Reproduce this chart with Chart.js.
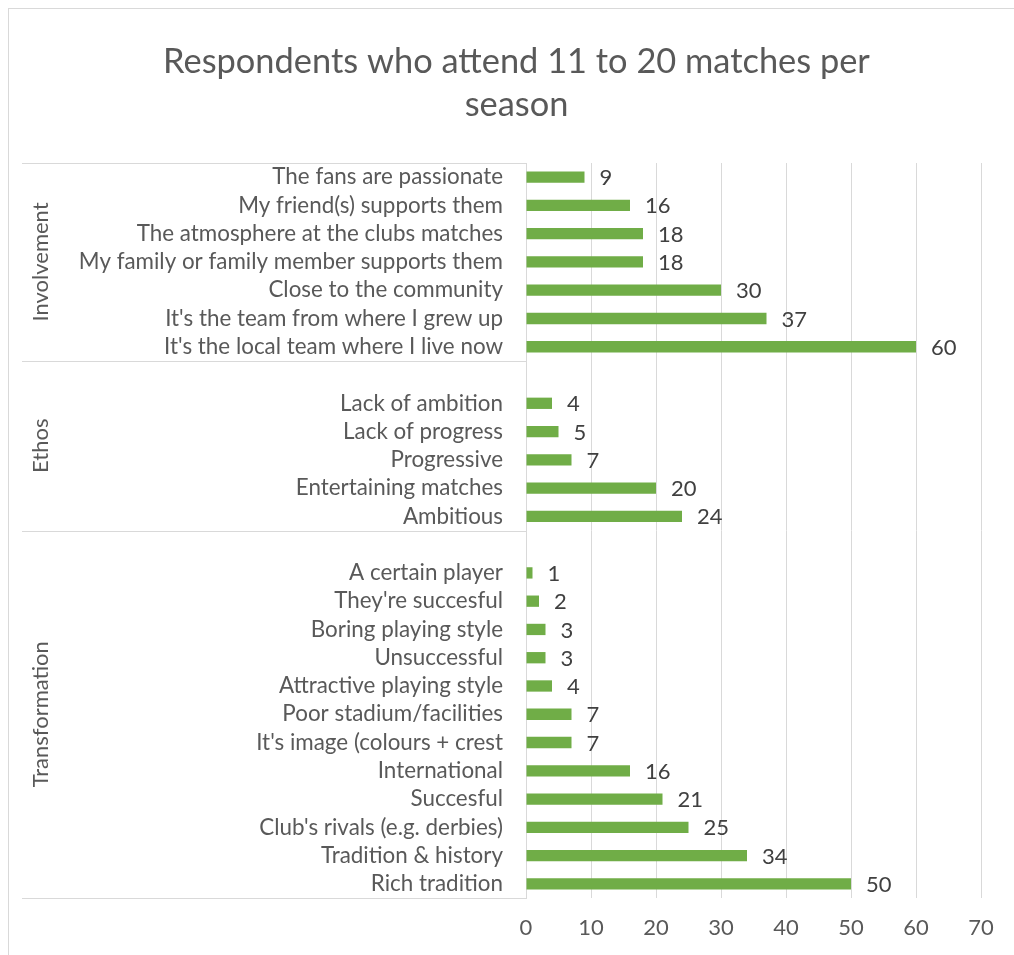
<!DOCTYPE html>
<html>
<head>
<meta charset="utf-8">
<script src="https://cdn.jsdelivr.net/npm/chart.js@4.4.1/dist/chart.umd.min.js"></script>
<style>
  html, body { margin: 0; padding: 0; background: #fff; }
  #wrap { position: relative; width: 1014px; height: 955px; overflow: hidden; }
  #frame { position: absolute; left: 8px; top: 8px; width: 1100px; height: 1100px; border: 1px solid #d9d9d9; box-sizing: border-box; }
  #chart { position: absolute; left: 0; top: 0; }
</style>
</head>
<body>
<div id="wrap">
  <div id="frame"></div>
  <canvas id="chart" width="1014" height="955"></canvas>
</div>
<script>
const TITLE = ['Respondents who attend 11 to 20 matches per', 'season'];
const GROUPS = ['Involvement', 'Ethos', 'Transformation'];

const involvementLabels = ['The fans are passionate', 'My friend(s) supports them', 'The atmosphere at the clubs matches',
  'My family or family member supports them', 'Close to the community', "It's the team from where I grew up",
  "It's the local team where I live now"];
const involvementValues = [9, 16, 18, 18, 30, 37, 60];

const ethosLabels = ['Lack of ambition', 'Lack of progress', 'Progressive', 'Entertaining matches', 'Ambitious'];
const ethosValues = [4, 5, 7, 20, 24];

const transformationLabels = ['A certain player', "They're succesful", 'Boring playing style', 'Unsuccessful',
  'Attractive playing style', 'Poor stadium/facilities', "It's image (colours + crest", 'International',
  'Succesful', "Club's rivals (e.g. derbies)", 'Tradition & history', 'Rich tradition'];
const transformationValues = [1, 2, 3, 3, 4, 7, 7, 16, 21, 25, 34, 50];

const X_TICKS = [0, 10, 20, 30, 40, 50, 60, 70];

const GREEN = '#70AD47';
const TEXT = '#595959';
const LABEL = '#404040';
const LINE = '#d9d9d9';
const FONT = "Lato, 'Noto Sans', sans-serif";

// flatten groups, a blank row opens every group after the first (as in the Excel sheet)
const groupLabels = [involvementLabels, ethosLabels, transformationLabels];
const groupValues = [involvementValues, ethosValues, transformationValues];
const labels = [];
const values = [];
const spans = [];
groupLabels.forEach((list, g) => {
  const start = labels.length;
  if (g > 0) { labels.push(''); values.push(null); }
  list.forEach((l, i) => { labels.push(l); values.push(groupValues[g][i]); });
  spans.push([start, labels.length - 1]);
});

const groupAxis = {
  id: 'groupAxis',
  afterDraw(chart) {
    const { ctx, chartArea } = chart;
    const y = chart.scales.y;
    const half = (y.getPixelForValue(1) - y.getPixelForValue(0)) / 2;
    ctx.save();
    ctx.strokeStyle = LINE;
    ctx.lineWidth = 1;
    spans.forEach(([a, b], g) => {
      const top = y.getPixelForValue(a) - half;
      const bot = y.getPixelForValue(b) + half;
      [top, bot].forEach(py => {
        ctx.beginPath();
        ctx.moveTo(22, Math.round(py) + 0.5);
        ctx.lineTo(chartArea.left, Math.round(py) + 0.5);
        ctx.stroke();
      });
      ctx.save();
      ctx.translate(41, (top + bot) / 2);
      ctx.rotate(-Math.PI / 2);
      ctx.fillStyle = TEXT;
      ctx.font = '22px ' + FONT;
      ctx.textAlign = 'center';
      ctx.textBaseline = 'middle';
      ctx.fillText(GROUPS[g], 0, 0);
      ctx.restore();
    });
    ctx.restore();
  }
};

const valueLabels = {
  id: 'valueLabels',
  afterDatasetsDraw(chart) {
    const { ctx } = chart;
    const meta = chart.getDatasetMeta(0);
    ctx.save();
    ctx.fillStyle = LABEL;
    ctx.font = '22px ' + FONT;
    ctx.textAlign = 'left';
    ctx.textBaseline = 'middle';
    meta.data.forEach((bar, i) => {
      if (values[i] == null) return;
      ctx.fillText(String(values[i]), bar.x + 15, bar.y + 1);
    });
    ctx.restore();
  }
};

new Chart(document.getElementById('chart'), {
  type: 'bar',
  data: {
    labels: labels,
    datasets: [{ data: values, backgroundColor: GREEN, barPercentage: 0.4, categoryPercentage: 1 }]
  },
  options: {
    indexAxis: 'y',
    responsive: false,
    animation: false,
    layout: { padding: { left: 52, right: 33, top: 0, bottom: 0 } },
    plugins: {
      legend: { display: false },
      tooltip: { enabled: false },
      title: {
        display: true, text: TITLE, color: TEXT,
        font: { family: FONT, size: 34.4, weight: 'normal', lineHeight: 43 / 34.4 },
        padding: { top: 40, bottom: 37 }
      }
    },
    scales: {
      x: {
        min: 0, max: 70,
        afterBuildTicks: (s) => { s.ticks = X_TICKS.map(v => ({ value: v })); },
        afterFit: (s) => { s.height = 57; },
        grid: { color: LINE, drawTicks: false },
        border: { display: false },
        ticks: { color: TEXT, padding: 17, font: { family: FONT, size: 22 } }
      },
      y: {
        afterFit: (s) => { s.width = 474; },
        grid: { display: false, drawTicks: false },
        border: { display: true, color: LINE },
        ticks: { color: TEXT, padding: 23, autoSkip: false, font: { family: FONT, size: 22.4 } }
      }
    }
  },
  plugins: [groupAxis, valueLabels]
});
</script>
</body>
</html>
